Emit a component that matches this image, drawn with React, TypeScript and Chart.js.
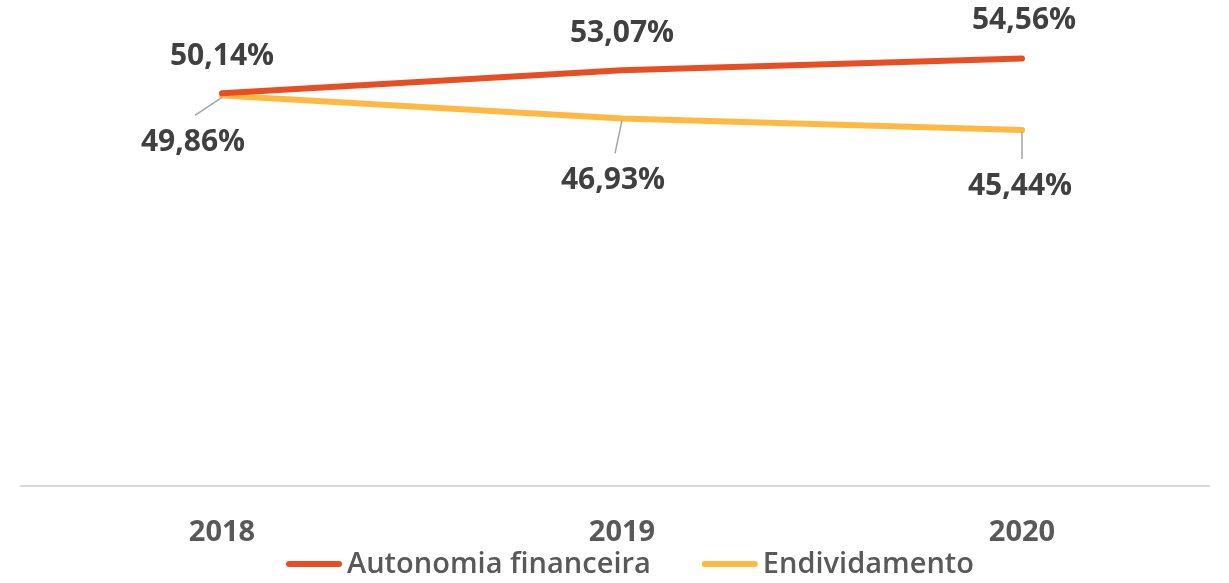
import React, { useEffect, useRef } from "react";
import { Chart, registerables } from "chart.js";

Chart.register(...registerables);

const years = ["2018", "2019", "2020"];
const autonomia = [50.14, 53.07, 54.56];
const endividamento = [49.86, 46.93, 45.44];
const seriesNames = ["Autonomia financeira", "Endividamento"];
const seriesColors = ["#E84E24", "#FFB943"];

// label placement relative to each point (dx, dy) and whether a leader line is drawn
const labelOffsets = [
  [[0, -37], [0, -37], [2, -38]],
  [[-29, 47], [-9, 62], [-2, 56]],
];
const leaderLines = [
  [false, false, false],
  [true, true, true],
];

const fmt = (v: number) => v.toFixed(2).replace(".", ",") + "%";

const FONT = "'Open Sans', 'Liberation Sans', sans-serif";

const overlayPlugin = {
  id: "overlay",
  beforeDatasetsDraw(chart: any) {
    const { ctx, chartArea, scales } = chart;
    const y0 = scales.y.getPixelForValue(0);
    ctx.save();
    ctx.strokeStyle = "#D9D9D9";
    ctx.lineWidth = 2;
    ctx.beginPath();
    ctx.moveTo(chartArea.left - 2, y0);
    ctx.lineTo(chartArea.right - 12, y0);
    ctx.stroke();
    ctx.restore();
  },
  afterDatasetsDraw(chart: any) {
    const { ctx } = chart;
    ctx.save();
    chart.data.datasets.forEach((ds: any, di: number) => {
      const meta = chart.getDatasetMeta(di);
      meta.data.forEach((pt: any, i: number) => {
        const [dx, dy] = labelOffsets[di][i];
        const lx = pt.x + dx;
        const ly = pt.y + dy;
        if (leaderLines[di][i]) {
          ctx.strokeStyle = "#A6A6A6";
          ctx.lineWidth = 1.5;
          ctx.beginPath();
          ctx.moveTo(pt.x, pt.y + 2);
          ctx.lineTo(lx + 2, ly - 27);
          ctx.stroke();
        }
        ctx.fillStyle = "#404040";
        ctx.font = `bold 30px ${FONT}`;
        ctx.textAlign = "center";
        ctx.textBaseline = "middle";
        ctx.fillText(fmt(ds.data[i]), lx, ly);
      });
    });
    ctx.restore();
  },
  afterDraw(chart: any) {
    const { ctx } = chart;
    ctx.save();
    ctx.font = `600 29px ${FONT}`;
    const swatch = 56;
    const textGap = 5;
    const itemGap = 51;
    const widths = chart.data.datasets.map((ds: any) => swatch + textGap + ctx.measureText(ds.label).width);
    const total = widths.reduce((a: number, b: number) => a + b, 0) + itemGap * (widths.length - 1);
    let x = 630 - total / 2;
    const y = 564;
    chart.data.datasets.forEach((ds: any, i: number) => {
      ctx.strokeStyle = ds.borderColor;
      ctx.lineWidth = 6;
      ctx.lineCap = "round";
      ctx.beginPath();
      ctx.moveTo(x + 3, y);
      ctx.lineTo(x + swatch - 3, y);
      ctx.stroke();
      ctx.fillStyle = "#595959";
      ctx.textAlign = "left";
      ctx.textBaseline = "middle";
      ctx.fillText(ds.label, x + swatch + textGap, y + 1);
      x += widths[i] + itemGap;
    });
    ctx.restore();
  },
};

export default function App() {
  const canvasRef = useRef<HTMLCanvasElement | null>(null);

  useEffect(() => {
    document.body.style.margin = "0";
    const canvas = canvasRef.current;
    if (!canvas) return;
    const chart = new Chart(canvas, {
      type: "line",
      data: {
        labels: years,
        datasets: [
          {
            label: seriesNames[0],
            data: autonomia,
            borderColor: seriesColors[0],
            backgroundColor: seriesColors[0],
            borderWidth: 6,
            borderCapStyle: "round",
            tension: 0,
            pointRadius: 0,
          },
          {
            label: seriesNames[1],
            data: endividamento,
            borderColor: seriesColors[1],
            backgroundColor: seriesColors[1],
            borderWidth: 6,
            borderCapStyle: "round",
            tension: 0,
            pointRadius: 0,
          },
        ],
      },
      options: {
        animation: false,
        responsive: true,
        maintainAspectRatio: false,
        layout: { padding: { top: 16, left: 22, right: 7, bottom: 0 } },
        plugins: {
          legend: { display: false },
          tooltip: { enabled: false },
        },
        scales: {
          x: {
            offset: true,
            grid: { display: false, drawTicks: false },
            border: { display: false },
            ticks: {
              color: "#595959",
              font: { family: FONT, size: 29, weight: "bold" },
              padding: 29,
              maxRotation: 0,
            },
            afterFit: (scale: any) => {
              scale.height = 97;
            },
          },
          y: {
            display: false,
            min: 0,
            max: 60,
          },
        },
      },
      plugins: [overlayPlugin],
    });
    return () => chart.destroy();
  }, []);

  return (
    <div style={{ width: 1229, height: 583, position: "relative" }}>
      <canvas ref={canvasRef} />
    </div>
  );
}
